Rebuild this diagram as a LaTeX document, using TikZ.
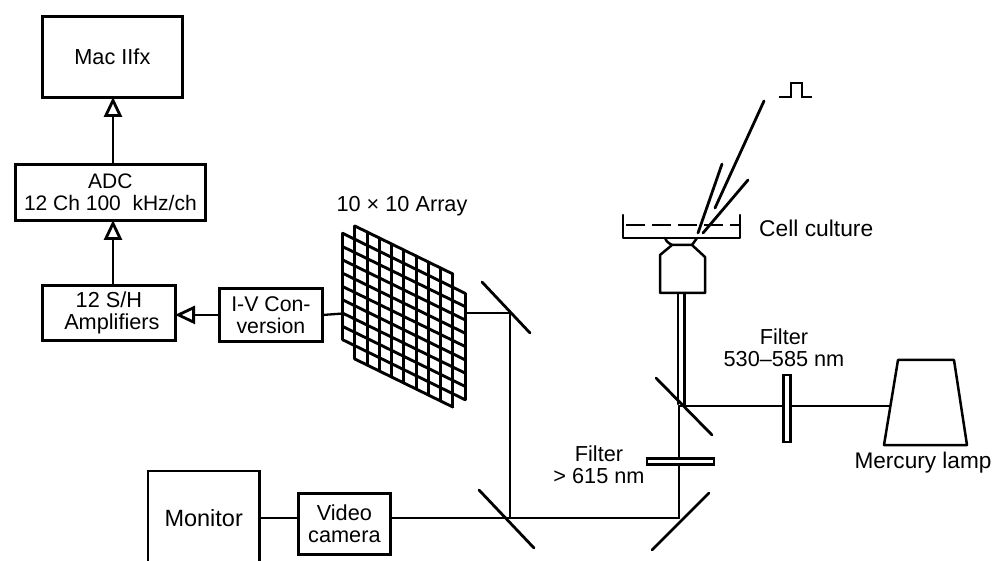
\documentclass[tikz,border=0pt]{standalone}
\usepackage{fontspec}
\setmainfont{Liberation Sans}
\usetikzlibrary{arrows.meta}
\newcommand{\fs}[1]{\fontsize{#1}{22}\selectfont}
\tikzset{
  thick line/.style={line width=2.5pt,line cap=round,line join=round},
  box/.style={draw,line width=2.8pt,inner sep=0pt,align=center,anchor=north west,font=\fs{21.7}},
  lbl/.style={inner sep=0pt,align=center,font=\fs{21.7}},
  plain/.style={inner sep=0pt,align=center,anchor=north west,font=\fs{23.5}},
  filterbar/.style={draw,fill=white,line width=2.3pt,inner sep=0pt},
  conn/.style={line width=2.3pt,line cap=round,line join=round},
  flow/.style={conn,-{Triangle[open,length=20pt,width=18pt,line width=2.8pt]},shorten >=0pt},
  mirror/.style={line width=2.8pt,line cap=round},
}
\begin{document}
\begin{tikzpicture}[x=1pt,y=-1pt]
\useasboundingbox (0,0) rectangle (994,561);
% block chain
\node[box,minimum width=140pt,minimum height=81pt] (mac) at (41,15) {Mac IIfx};
\node[box,minimum width=190pt,minimum height=56pt,font=\fs{21}] (adc) at (14,163) {ADC\\12 Ch 100\ \ kHz/ch};
\node[box,minimum width=133pt,minimum height=55pt] (sh) at (41,284) {12 S/H\\\hspace*{6pt}Amplifiers};
\node[box,minimum width=103pt,minimum height=53pt,font=\fs{21.3}] (iv) at (218,287) {I-V Con-\\version};
\node[box,minimum width=92pt,minimum height=61pt] (video) at (297,492) {Video\\camera};
\node[plain,minimum width=111pt,minimum height=94pt] (monitor) at (148,471) {Monitor};
\draw[line width=2.8pt] (monitor.north west |- 0,561) -- (monitor.north west) -- (monitor.north east) -- (monitor.north east |- 0,561);
\draw[flow] (adc.north -| 113,0) -- (113,97);
\draw[flow] (sh.north -| 113,0) -- (113,220);
\draw[flow] (iv.west) -- (175,313.5 |- iv.west);
% mirrors
\coordinate (m1) at (510,313);
\coordinate (m2) at (510,518);
\coordinate (m3) at (679,406);
\coordinate (m4) at (679,518);
\coordinate (array left) at (343,313.5);
\coordinate (array right) at (465,313);
\draw[conn] (iv.east) -- (array left);
\draw[conn] (array right) -- (m1) -- (m2);
\draw[conn] (monitor.east) -- (video.west |- monitor.east);
\draw[conn] (video.east |- m2) -- (m2) -- (m4);
\draw[conn] (m4) -- (m3);
\draw[mirror] (482,282) -- (530,333);
\draw[mirror] (479,490) -- (534,548);
\draw[mirror] (656,378) -- (712,435);
\draw[mirror] (652,550) -- (709,493);
% array
\foreach \i in {0,...,10}{
  \pgfmathsetmacro{\xc}{342.6+12.25*\i}
  \pgfmathsetmacro{\yt}{220+6*\i}
  \pgfmathtruncatemacro{\ja}{(\i==0||\i==10)?1:0}
  \pgfmathtruncatemacro{\jb}{(\i==0||\i==10)?9:10}
  \draw[line width=2.9pt,line cap=round] (\xc,\yt+13.3*\ja) -- (\xc,\yt+13.3*\jb);
  \draw[line width=2.9pt,line cap=round] (342.6+12.25*\ja,220+6*\ja+13.3*\i) -- (342.6+12.25*\jb,220+6*\jb+13.3*\i);
}
\node[lbl] (arraylabel) at (402,206) {10 × 10 Array};
% microscope
\draw[conn] (678,293) -- (678,404);
\draw[conn] (684.5,293) -- (684.5,405);
\draw[thick line] (660,293) -- (705,293) -- (705,257) -- (692,245) -- (672,245) -- (660,255) -- cycle;
\draw[thick line] (665,238) .. controls (667,242) .. (672,245);
\draw[thick line] (697,238) .. controls (695,242) .. (692,245);
\draw[thick line] (623,215) -- (623,238) -- (740,238) -- (740,215);
\draw[thick line,dash pattern=on 19pt off 7pt,line cap=butt] (626,225) -- (741,225);
\node[lbl,anchor=west,font=\fs{22.8}] (culture) at (759,228) {Cell culture};
\draw[mirror] (764,101) -- (715,208);
\draw[mirror] (722,164) -- (698,233);
\draw[mirror] (748,180) -- (703,233);
\draw[line width=2.8pt,line cap=butt,line join=miter] (779,97) -- (791,97) -- (791,83) -- (802,83) -- (802,97) -- (812,97);
% lamp branch
\coordinate (lamp port) at (889,406);
\draw[conn] (m3) -- (lamp port);
\node[filterbar,minimum width=7pt,minimum height=67pt] (f1) at (787,408.5) {};
\node[filterbar,minimum width=67pt,minimum height=6pt] (f2) at (680.5,461.5) {};
\node[lbl] (f1label) at (784,348) {Filter\\530–585 nm};
\node[lbl] (f2label) at (599,465) {Filter\\> 615 nm};
\draw[thick line] (898,360) -- (954,360) -- (967,445) -- (884,445) -- cycle;
\node[lbl,font=\fs{22.6}] (lamplabel) at (923,463) {Mercury lamp};
\end{tikzpicture}
\end{document}
